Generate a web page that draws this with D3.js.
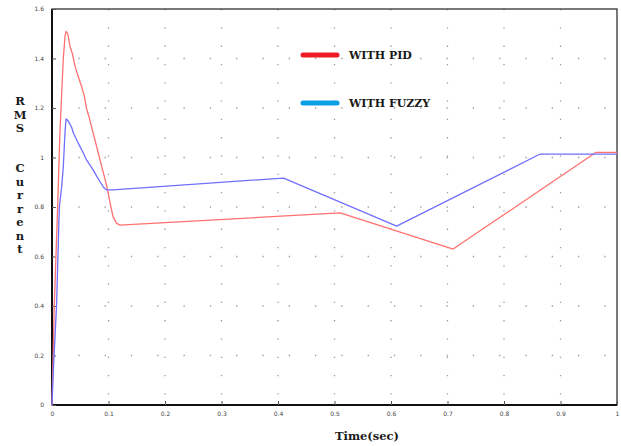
<!DOCTYPE html>
<html><head><meta charset="utf-8">
<script src="https://cdn.jsdelivr.net/npm/d3@7"></script>
<style>body{margin:0;background:#fff}svg{display:block}</style>
</head><body><svg id="c" width="621" height="446"></svg>
<script>
const xTicks = [0,0.1,0.2,0.3,0.4,0.5,0.6,0.7,0.8,0.9,1];
const yTicks = [0,0.2,0.4,0.6,0.8,1,1.2,1.4,1.6];
const pidT = [0,0.004,0.01,0.014,0.016,0.02,0.023,0.025,0.028,0.032,0.036,0.041,0.046,0.0525,0.057,0.061,0.066,0.070,0.075,0.079,0.084,0.088,0.093,0.097,0.100,0.103,0.108,0.114,0.120,0.51,0.71,0.963,1.0];
const pidV = [0,0.40,0.80,1.10,1.20,1.40,1.49,1.51,1.50,1.448,1.42,1.367,1.33,1.286,1.25,1.199,1.16,1.124,1.08,1.044,1.00,0.963,0.92,0.882,0.85,0.815,0.761,0.735,0.727,0.776,0.630,1.021,1.021];
const fuzT = [0,0.0024,0.008,0.013,0.017,0.020,0.023,0.0248,0.028,0.031,0.035,0.038,0.044,0.0496,0.055,0.061,0.067,0.073,0.079,0.085,0.091,0.097,0.108,0.41,0.61,0.864,1.0];
const fuzV = [0,0.141,0.40,0.80,0.88,0.963,1.10,1.156,1.15,1.138,1.12,1.098,1.07,1.044,1.02,0.99,0.97,0.949,0.925,0.902,0.88,0.869,0.869,0.917,0.723,1.014,1.014];
const legend = [{label:"WITH PID", color:"#ee1c25"},{label:"WITH FUZZY", color:"#0aa0e6"}];

const svg = d3.select("#c");
const L=52,R=617,T=9,B=405;
const x = d3.scaleLinear().domain([0,1]).range([L,R]);
const y = d3.scaleLinear().domain([0,1.6]).range([B,T]);

// grid
const g = svg.append("g");
g.selectAll(".vg").data(xTicks.slice(1,-1)).join("line")
  .attr("x1",d=>x(d)).attr("x2",d=>x(d)).attr("y1",T).attr("y2",B)
  .attr("stroke","#9a9a9a").attr("stroke-width",1.3).attr("stroke-dasharray","1.3,17");
g.selectAll(".hg").data(yTicks.slice(1,-1)).join("line")
  .attr("y1",d=>y(d)).attr("y2",d=>y(d)).attr("x1",L).attr("x2",R)
  .attr("stroke","#9a9a9a").attr("stroke-width",1.3).attr("stroke-dasharray","1.3,25");

// frame
svg.append("rect").attr("x",L).attr("y",T).attr("width",R-L).attr("height",B-T)
  .attr("fill","none").attr("stroke","#222").attr("stroke-width",1.2);
svg.append("line").attr("x1",L).attr("x2",L).attr("y1",T).attr("y2",B).attr("stroke","#111").attr("stroke-width",2);
svg.append("line").attr("x1",L).attr("x2",R).attr("y1",B).attr("y2",B).attr("stroke","#111").attr("stroke-width",2);

// axes
const xa = svg.append("g").attr("transform",`translate(0,${B})`)
  .call(d3.axisBottom(x).tickValues(xTicks).tickSize(-4).tickPadding(7).tickFormat(d=>d===0?"0":d===1?"1":d3.format(".1f")(d)));
const ya = svg.append("g").attr("transform",`translate(${L},0)`)
  .call(d3.axisLeft(y).tickValues(yTicks).tickSize(-4).tickPadding(8).tickFormat(d=>d===0?"0":d===1?"1":d3.format(".1f")(d)));
[xa,ya].forEach(a=>{
  a.select(".domain").remove();
  a.selectAll("line").attr("stroke","#555");
  a.selectAll("text").attr("font-family","DejaVu Sans").attr("font-size",6).attr("fill","#444");
});

// lines
const line = (T_,V_) => d3.line().x((d,i)=>x(T_[i])).y((d,i)=>y(V_[i]))(T_);
svg.append("path").attr("d",line(pidT,pidV)).attr("fill","none").attr("stroke","#ff7070").attr("stroke-width",1.3).attr("stroke-linejoin","round");
svg.append("path").attr("d",line(fuzT,fuzV)).attr("fill","none").attr("stroke","#7070ff").attr("stroke-width",1.3).attr("stroke-linejoin","round");

// legend
const lg = svg.append("g");
legend.forEach((d,i)=>{
  const yy = 55 + i*48;
  lg.append("line").attr("x1",303).attr("x2",337).attr("y1",yy).attr("y2",yy)
    .attr("stroke",d.color).attr("stroke-width",5).attr("stroke-linecap","round");
  lg.append("text").attr("x",349).attr("y",yy+4).text(d.label)
    .attr("font-family","DejaVu Serif").attr("font-weight","bold").attr("font-size",11).attr("fill","#1a1a1a");
});

// axis labels
svg.append("text").attr("x",367).attr("y",440).attr("text-anchor","middle").text("Time(sec)")
  .attr("font-family","DejaVu Serif").attr("font-weight","bold").attr("font-size",11.5).attr("fill","#1a1a1a");
const yl = svg.append("g").attr("font-family","DejaVu Serif").attr("font-weight","bold").attr("font-size",11.5).attr("fill","#1a1a1a").attr("text-anchor","middle");
"RMS".split("").forEach((c,i)=> yl.append("text").attr("x",20).attr("y",105+i*13.5).text(c));
"Current".split("").forEach((c,i)=> yl.append("text").attr("x",20).attr("y",172+i*13.5).text(c));
</script></body></html>
